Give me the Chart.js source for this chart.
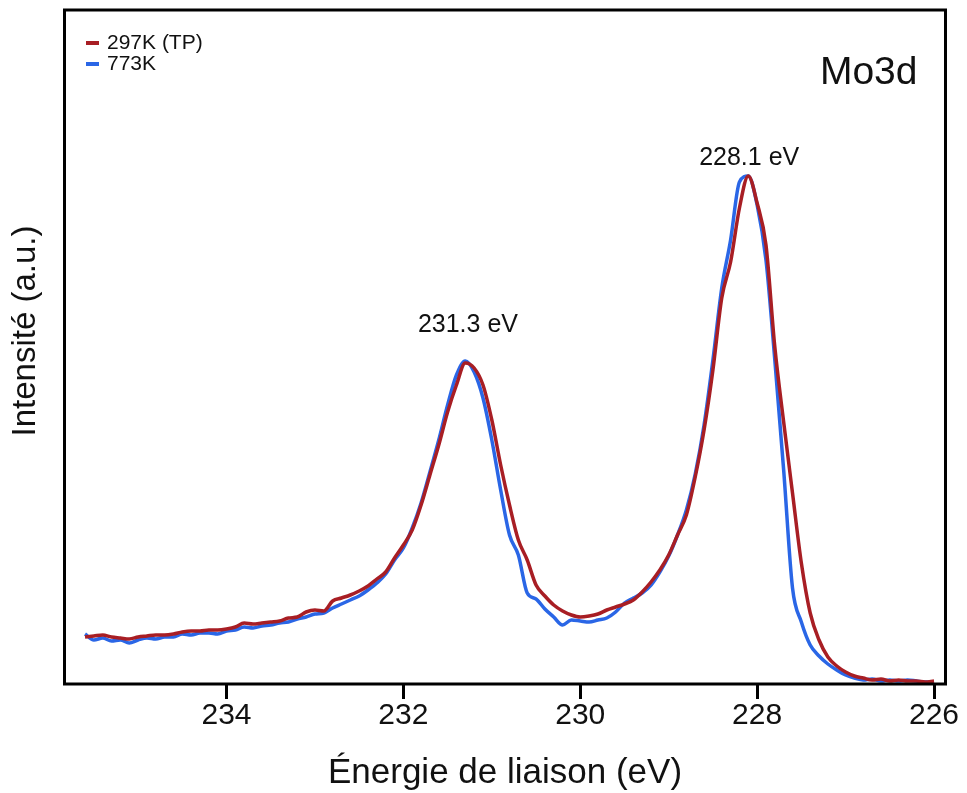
<!DOCTYPE html>
<html>
<head>
<meta charset="utf-8">
<script src="https://cdn.jsdelivr.net/npm/chart.js@4"></script>
<style>
  html, body { margin: 0; padding: 0; background: #fff; }
  #wrap { width: 967px; height: 793px; position: relative; }
</style>
</head>
<body>
<div id="wrap"><canvas id="c"></canvas></div>
<script>
// Binding energy (eV), every 0.1 eV
const energies = [
  235.6,235.5,235.4,235.3,235.2,235.1,235.0,
  234.9,234.8,234.7,234.6,234.5,234.4,234.3,234.2,234.1,234.0,
  233.9,233.8,233.7,233.6,233.5,233.4,233.3,233.2,233.1,233.0,
  232.9,232.8,232.7,232.6,232.5,232.4,232.3,232.2,232.1,232.0,
  231.9,231.8,231.7,231.6,231.5,231.4,231.3,231.2,231.1,231.0,
  230.9,230.8,230.7,230.6,230.5,230.4,230.3,230.2,230.1,230.0,
  229.9,229.8,229.7,229.6,229.5,229.4,229.3,229.2,229.1,229.0,
  228.9,228.8,228.7,228.6,228.5,228.4,228.3,228.2,228.1,228.0,
  227.9,227.8,227.7,227.6,227.5,227.4,227.3,227.2,227.1,227.0,
  226.9,226.8,226.7,226.6,226.5,226.4,226.3,226.2,226.1,226.0
];
// Intensity (a.u.) - 297K (TP)
const intensity297K = [
  9.4,9.6,9.8,9.4,9.2,9.0,9.4,
  9.6,9.8,9.8,10.0,10.4,10.6,10.6,10.8,10.8,11.0,
  11.4,12.2,12.0,12.2,12.4,12.6,13.2,13.4,14.4,14.8,
  14.6,16.6,17.2,17.8,18.6,19.6,21.0,22.4,25.2,27.8,
  30.8,35.8,41.8,47.8,54.4,59.8,64.2,63.2,59.8,52.8,
  43.8,35.8,28.8,24.8,19.8,17.6,15.8,14.6,13.8,13.4,
  13.6,14.0,14.8,15.4,16.0,16.8,18.4,20.4,22.8,25.8,
  29.8,33.8,41.4,50.8,62.8,77.2,84.4,95.2,101.6,96.2,
  87.8,67.4,52.4,38.2,24.2,14.2,8.8,5.4,3.6,2.4,
  1.6,1.2,0.8,1.0,0.6,0.8,0.6,0.6,0.4,0.6
];
// Intensity (a.u.) - 773K
const intensity773K = [
  10.0,8.8,9.2,8.6,8.8,8.2,8.8,
  9.2,9.0,9.4,9.4,10.0,9.8,10.2,10.2,10.0,10.6,
  10.8,11.4,11.2,11.6,11.8,12.2,12.4,13.0,13.4,14.0,
  14.2,15.2,16.0,16.8,17.6,18.8,20.2,22.0,24.8,27.2,
  31.2,36.2,42.4,48.8,55.8,61.8,64.6,62.4,57.2,48.8,
  38.8,29.8,25.8,18.2,17.0,15.0,13.4,11.8,12.8,12.6,
  12.4,12.8,13.2,14.4,16.2,17.2,18.2,19.8,22.4,25.6,
  29.8,34.8,42.0,51.8,64.8,79.2,88.8,100.4,101.6,95.8,
  84.8,64.8,42.8,19.2,12.4,7.8,5.6,4.0,2.8,1.8,
  1.2,0.8,1.0,0.6,0.8,0.6,0.8,0.6,0.4,0.4
];
const seriesLabels = ['297K (TP)', '773K'];
const xTicks = [234, 232, 230, 228, 226];
const xTitle = 'Énergie de liaison (eV)';
const yTitle = 'Intensité (a.u.)';
const panelTitle = 'Mo3d';
const peakLabels = ['231.3 eV', '228.1 eV'];
const peakLabelEnergy = [231.27, 228.09];
const peakLabelLevel = [70.4, 103.8];

const FONT = '"Liberation Sans", Arial, "Helvetica Neue", sans-serif';
const RED = '#A81E24';
const BLUE = '#2A66E6';
const INK = '#111111';

const overlay = {
  id: 'overlay',
  afterDatasetsDraw(chart) {
    const { ctx, chartArea: a, scales: { x, y } } = chart;
    ctx.save();
    // frame
    ctx.lineWidth = 3;
    ctx.strokeStyle = '#000';
    ctx.strokeRect(a.left, a.top, a.right - a.left, a.bottom - a.top);
    // peak labels
    ctx.fillStyle = INK;
    ctx.font = '25px ' + FONT;
    ctx.textAlign = 'center';
    ctx.textBaseline = 'alphabetic';
    peakLabels.forEach((t, i) => {
      ctx.fillText(t, x.getPixelForValue(peakLabelEnergy[i]), y.getPixelForValue(peakLabelLevel[i]));
    });
    // panel title
    ctx.font = '39px ' + FONT;
    ctx.textAlign = 'right';
    ctx.fillText(panelTitle, a.right - 28, a.top + 74);
    // legend
    ctx.font = '21px ' + FONT;
    ctx.textAlign = 'left';
    ctx.textBaseline = 'middle';
    chart.data.datasets.forEach((ds, i) => {
      const cy = a.top + 33 + i * 21;
      ctx.fillStyle = ds.borderColor;
      ctx.fillRect(a.left + 21.5, cy - 2, 13, 4);
      ctx.fillStyle = INK;
      ctx.fillText(ds.label, a.left + 42.5, cy);
    });
    // y axis title
    ctx.save();
    ctx.translate(26, (a.top + a.bottom) / 2 - 16);
    ctx.rotate(-Math.PI / 2);
    ctx.font = '33px ' + FONT;
    ctx.textAlign = 'center';
    ctx.textBaseline = 'middle';
    ctx.fillText(yTitle, 0, 0);
    ctx.restore();
    ctx.restore();
  }
};

new Chart(document.getElementById('c'), {
  type: 'line',
  data: {
    datasets: [
      {
        label: seriesLabels[0],
        data: energies.map((e, i) => ({ x: e, y: intensity297K[i] })),
        borderColor: RED,
        backgroundColor: RED,
        borderWidth: 3.5,
        pointRadius: 0,
        cubicInterpolationMode: 'monotone',
        fill: false
      },
      {
        label: seriesLabels[1],
        data: energies.map((e, i) => ({ x: e, y: intensity773K[i] })),
        borderColor: BLUE,
        backgroundColor: BLUE,
        borderWidth: 3.5,
        pointRadius: 0,
        cubicInterpolationMode: 'monotone',
        fill: false
      }
    ]
  },
  options: {
    responsive: true,
    maintainAspectRatio: false,
    animation: false,
    devicePixelRatio: 1,
    layout: { padding: { left: 64.5, right: 21.5, top: 10, bottom: 0 } },
    plugins: {
      legend: { display: false },
      tooltip: { enabled: false }
    },
    scales: {
      x: {
        type: 'linear',
        position: 'bottom',
        reverse: true,
        min: 225.87,
        max: 235.832,
        afterBuildTicks: (scale) => { scale.ticks = xTicks.map(v => ({ value: v })); },
        afterFit: (scale) => { scale.height = 109; },
        ticks: {
          color: INK,
          padding: 1.5,
          font: { family: FONT, size: 30, lineHeight: 1 },
          maxRotation: 0,
          callback: (v) => String(v)
        },
        grid: {
          display: true,
          drawOnChartArea: false,
          drawTicks: true,
          tickLength: 15,
          tickWidth: 3,
          tickColor: '#000'
        },
        border: { display: false },
        title: {
          display: true,
          text: xTitle,
          color: INK,
          font: { family: FONT, size: 35, lineHeight: 1.1 },
          padding: { top: 0, bottom: 0 }
        }
      },
      y: {
        display: false,
        min: 0,
        max: 134.8
      }
    }
  },
  plugins: [overlay]
});
</script>
</body>
</html>
